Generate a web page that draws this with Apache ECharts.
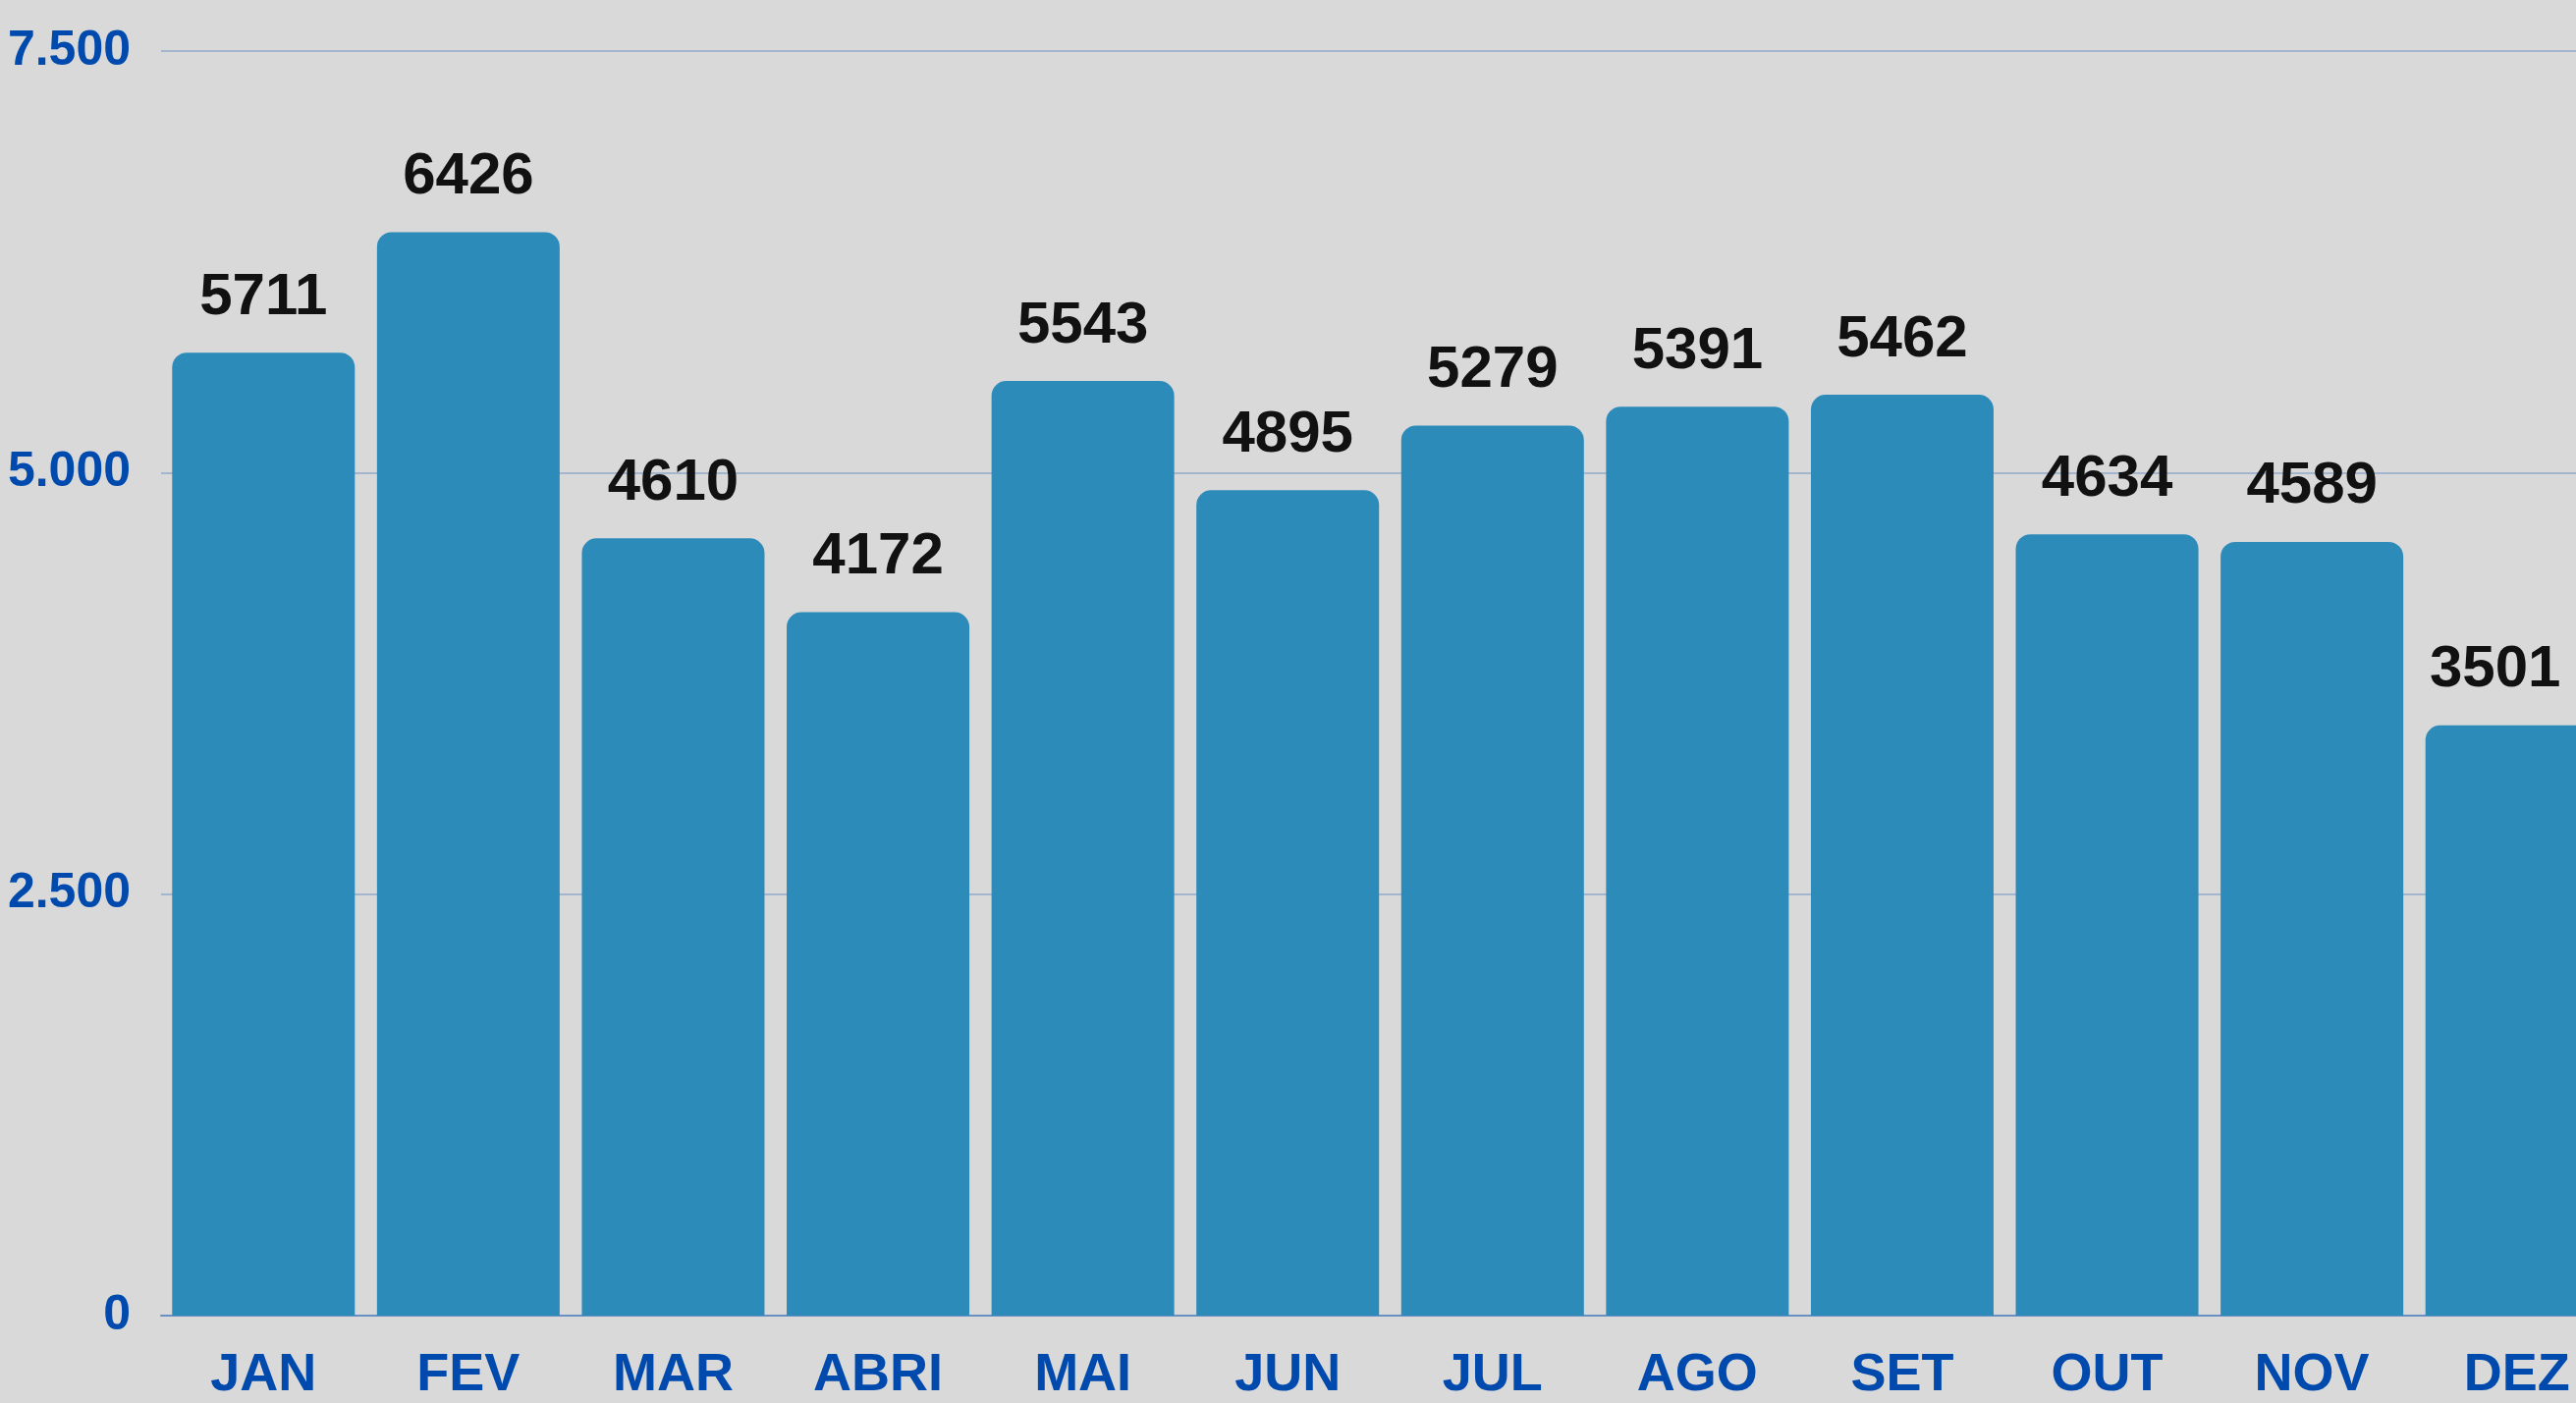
<!DOCTYPE html>
<html>
<head>
<meta charset="utf-8">
<style>
html,body{margin:0;padding:0;background:#d9d9d9;overflow:hidden;}
#chart{width:2623px;height:1429px;}
</style>
<script src="https://cdn.jsdelivr.net/npm/echarts@6/dist/echarts.min.js"></script>
</head>
<body>
<div id="chart"></div>
<script>
const categories = ['JAN','FEV','MAR','ABRI','MAI','JUN','JUL','AGO','SET','OUT','NOV','DEZ'];
const values = [5711,6426,4610,4172,5543,4895,5279,5391,5462,4634,4589,3501];
const yTickValues = [0,2500,5000,7500];
const yTickLabels = ['0','2.500','5.000','7.500'];

const FONT = '"Liberation Sans Narrow","Liberation Sans",Arial,sans-serif';
const chart = echarts.init(document.getElementById('chart'));
const seriesData = values.map(function(v, i){
  // keep the last label inside the canvas (the last bar is cut by the right edge)
  return i === values.length - 1 ? {value:v, label:{offset:[-22,0]}} : v;
});
chart.setOption({
  backgroundColor:'#d9d9d9',
  animation:false,
  grid:{left:164,right:-44,top:52,bottom:89,containLabel:false,outerBoundsMode:'none'},
  xAxis:{
    type:'category',
    data:categories,
    axisTick:{show:false},
    axisLine:{show:true,lineStyle:{color:'#6a8fc2',width:2}},
    axisLabel:{color:'#004aad',fontFamily:FONT,fontWeight:'bold',fontSize:54,margin:34}
  },
  yAxis:{
    type:'value',
    min:0,max:7500,interval:2500,
    axisLine:{show:false},
    axisTick:{show:false},
    splitLine:{lineStyle:{color:'#a4b5cf',width:2}},
    axisLabel:{color:'#004aad',fontFamily:FONT,fontWeight:'bold',fontSize:50,margin:31,
      formatter:function(v){const i=yTickValues.indexOf(v);return i>=0?yTickLabels[i]:'';}}
  },
  series:[{
    type:'bar',
    data:seriesData,
    barWidth:186,
    itemStyle:{color:'#2d8bba',borderRadius:[15,15,0,0]},
    label:{show:true,position:'top',distance:26,color:'#111',fontFamily:FONT,fontWeight:'bold',fontSize:60}
  }]
});
</script>
</body>
</html>
